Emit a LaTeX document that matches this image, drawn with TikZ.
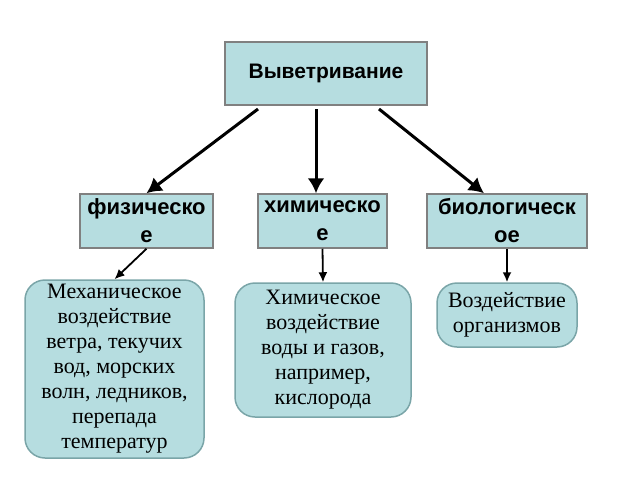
\documentclass[tikz,border=0pt]{standalone}
\usepackage{fontspec}
\setmainfont{Liberation Serif}
\setsansfont{Liberation Sans}
\usetikzlibrary{arrows.meta, calc}

\definecolor{boxfill}{RGB}{182,221,224}
\definecolor{boxline}{RGB}{128,128,128}
\definecolor{softline}{RGB}{122,165,168}

\begin{document}
\begin{tikzpicture}[x=1pt, y=-1pt,
  kind/.style={draw=boxline, fill=boxfill, line width=1.5pt, inner sep=0pt, align=center,
    font=\sffamily\bfseries\fontsize{22}{28}\selectfont},
  effect/.style={draw=softline, fill=boxfill, line width=1.5pt, rounded corners=20pt,
    inner sep=0pt, align=center, font=\fontsize{22}{25}\selectfont},
  bigarrow/.style={-{Latex[length=15pt, width=17pt]}, line width=3pt},
  smallarrow/.style={-{Latex[length=10pt, width=9pt]}, line width=1.8pt}]

  \useasboundingbox (0,0) rectangle (640,480);

  \node[kind, minimum width=202pt, minimum height=63pt, font=\sffamily\bfseries\fontsize{21}{25}\selectfont]
    (weath) at (326,73.5) {Выветривание};

  \node[kind, minimum width=133pt, minimum height=54pt] (fiz)  at (146.5,221) {физическо\\е};
  \node[kind, minimum width=129pt, minimum height=54pt] (chem) at (322.5,221) {химическо\\е};
  \node[kind, minimum width=160pt, minimum height=54pt] (bio)  at (507,221)   {биологическ\\ое};

  \node[effect, minimum width=179pt, minimum height=178pt] (mech) at (114.5,369)
    {Механическое\\воздействие\\ветра, текучих\\вод, морских\\волн, ледников,\\перепада\\температур};
  \node[effect, minimum width=176pt, minimum height=134pt] (chemact) at (323,350)
    {Химическое\\воздействие\\воды и газов,\\например,\\кислорода};
  \node[effect, minimum width=140pt, minimum height=64pt] (bioact) at (507,315)
    {Воздействие\\организмов};

  % arrows from the top box
  \coordinate (s1) at (258,109);
  \coordinate (s2) at (316,109);
  \coordinate (s3) at (379,109);

  \draw[bigarrow] (s1) -- (fiz.north);
  \draw[bigarrow] (s2) -- (s2 |- chem.north);
  \draw[bigarrow] (s3) -- ($(bio.north)+(-23,0)$);

  \draw[smallarrow] (fiz.south)  -- (mech.north);
  \draw[smallarrow] (chem.south) -- (chemact.north);
  \draw[smallarrow] (bio.south)  -- (bioact.north);

\end{tikzpicture}
\end{document}
